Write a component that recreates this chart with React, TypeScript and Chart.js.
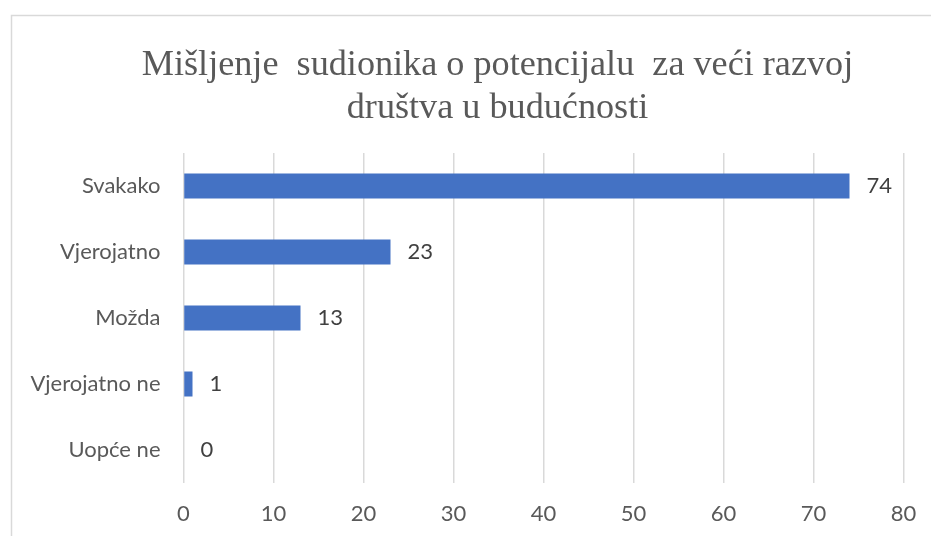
import React, { useEffect, useRef } from "react";
import { Chart, registerables } from "chart.js";

Chart.register(...registerables);

const titleLines = ["Mišljenje  sudionika o potencijalu  za veći razvoj", "društva u budućnosti"];
const categories = ["Svakako", "Vjerojatno", "Možda", "Vjerojatno ne", "Uopće ne"];
const values = [74, 23, 13, 1, 0];
const xMin = 0;
const xMax = 80;
const xStep = 10;

const LABEL_FONT = "Lato, 'Open Sans', sans-serif";

const framePlugin = {
  id: "frame",
  beforeDraw(chart: any) {
    const ctx = chart.ctx;
    ctx.save();
    ctx.fillStyle = "#ffffff";
    ctx.fillRect(0, 0, chart.width, chart.height);
    ctx.strokeStyle = "#d9d9d9";
    ctx.lineWidth = 1.5;
    ctx.strokeRect(11.5, 15.5, chart.width + 50, chart.height + 50);
    ctx.restore();
  },
  afterDraw(chart: any) {
    const ctx = chart.ctx;
    ctx.save();
    ctx.fillStyle = "#595959";
    ctx.font = "36.2px 'Liberation Serif', 'Times New Roman', serif";
    ctx.textAlign = "center";
    ctx.textBaseline = "alphabetic";
    titleLines.forEach((line, i) => {
      ctx.fillText(line, 497.5, 75 + i * 43);
    });
    ctx.restore();
  },
};

const valueLabelPlugin = {
  id: "valueLabels",
  afterDatasetsDraw(chart: any) {
    const ctx = chart.ctx;
    const meta = chart.getDatasetMeta(0);
    ctx.save();
    ctx.fillStyle = "#404040";
    ctx.font = `22px ${LABEL_FONT}`;
    ctx.textAlign = "left";
    ctx.textBaseline = "middle";
    meta.data.forEach((bar: any, i: number) => {
      ctx.fillText(String(values[i]), bar.x + 17, bar.y);
    });
    ctx.restore();
  },
};

export default function App() {
  const ref = useRef<HTMLCanvasElement>(null);
  useEffect(() => {
    if (!ref.current) return;
    const chart = new Chart(ref.current, {
      type: "bar",
      data: {
        labels: categories,
        datasets: [
          {
            data: values,
            backgroundColor: "#4472C4",
            borderWidth: 0,
            categoryPercentage: 0.47,
            barPercentage: 0.8,
          },
        ],
      },
      options: {
        indexAxis: "y",
        responsive: false,
        animation: false,
        layout: { padding: { left: 0, right: 27.5, top: 153, bottom: 0 } },
        plugins: {
          legend: { display: false },
          title: { display: false },
          tooltip: { enabled: false },
        },
        scales: {
          x: {
            min: xMin,
            max: xMax,
            ticks: {
              stepSize: xStep,
              color: "#595959",
              font: { family: LABEL_FONT, size: 22 },
              padding: 18,
            },
            grid: { color: "#d9d9d9", lineWidth: 1.5, drawTicks: false },
            border: { display: false },
            afterFit(scale: any) {
              scale.height = 53;
              scale.paddingLeft = 0;
              scale.paddingRight = 0;
            },
          },
          y: {
            ticks: {
              color: "#595959",
              font: { family: LABEL_FONT, size: 22 },
              padding: 23,
            },
            grid: { display: false, drawTicks: false },
            border: { display: false },
            afterFit(scale: any) {
              scale.width = 183.5;
              scale.paddingTop = 0;
              scale.paddingBottom = 0;
            },
          },
        },
      },
      plugins: [framePlugin, valueLabelPlugin],
    });
    return () => chart.destroy();
  }, []);
  return (
    <canvas
      ref={ref}
      width={931}
      height={536}
      style={{ position: "fixed", left: 0, top: 0, display: "block" }}
    />
  );
}
